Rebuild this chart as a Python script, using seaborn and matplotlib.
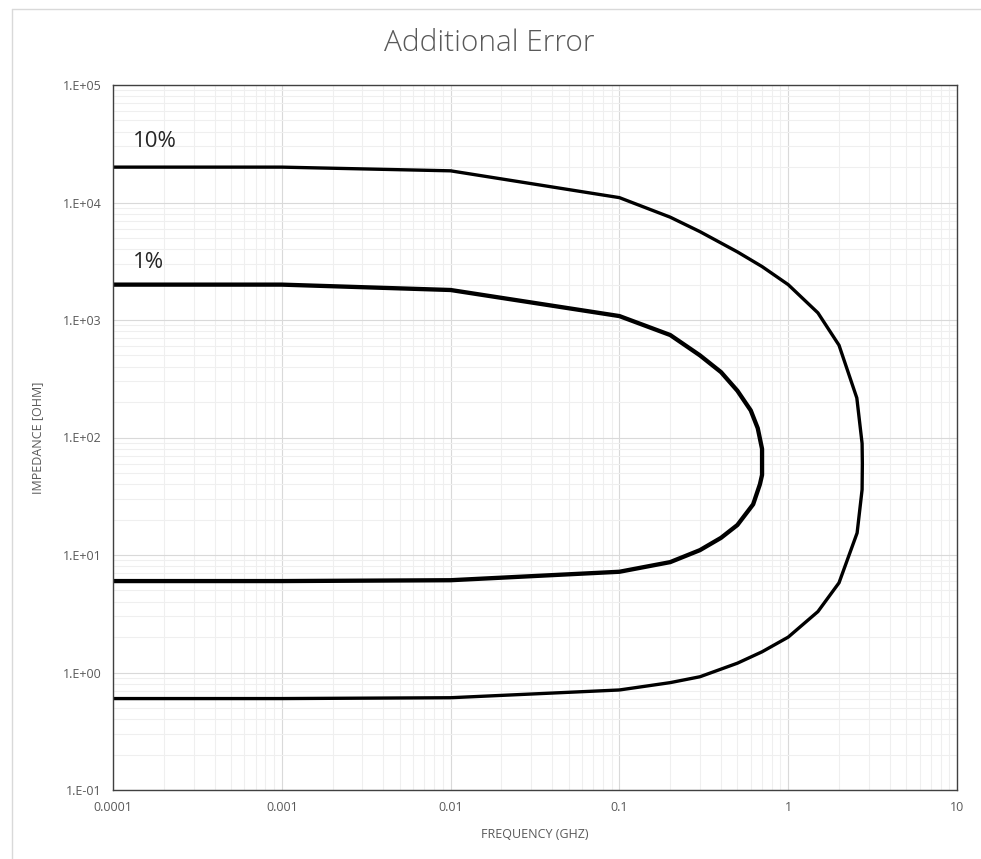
import matplotlib
matplotlib.use('Agg')
import matplotlib.pyplot as plt
import matplotlib.ticker as mticker
from matplotlib.lines import Line2D
import numpy as np
import pandas as pd
import seaborn as sns

# 1% curve: upper branch out to the tip, then lower branch back
freq_1 = [0.0001, 0.001, 0.01, 0.1, 0.2, 0.3, 0.4, 0.5, 0.6, 0.66, 0.7, 0.7,
          0.68, 0.62, 0.5, 0.4, 0.3, 0.2, 0.1, 0.01, 0.001, 0.0001]
imp_1 = [2000, 2000, 1800, 1080, 745, 500, 360, 250, 170, 120, 80, 48,
         40, 27, 18, 14, 11, 8.7, 7.2, 6.1, 6.0, 6.0]

# 10% curve
freq_10 = [0.0001, 0.001, 0.01, 0.1, 0.2, 0.3, 0.5, 0.7, 1.0, 1.5, 2.0, 2.55, 2.74, 2.75,
           2.74, 2.56, 2.0, 1.5, 1.0, 0.7, 0.5, 0.3, 0.2, 0.1, 0.01, 0.001, 0.0001]
imp_10 = [20000, 20000, 18600, 11000, 7500, 5650, 3800, 2850, 2000, 1150, 610, 217, 89, 60,
          36, 15.4, 5.8, 3.3, 2.0, 1.5, 1.2, 0.92, 0.82, 0.71, 0.61, 0.6, 0.6]

curve_labels = ['1%', '10%']
label_x = [0.000132, 0.000132]
label_y = [3100, 33000]

xtick_vals = [1e-4, 1e-3, 1e-2, 1e-1, 1, 10]
xtick_labels = ['0.0001', '0.001', '0.01', '0.1', '1', '10']
ytick_vals = [1e-1, 1e0, 1e1, 1e2, 1e3, 1e4, 1e5]
ytick_labels = ['1.E-01', '1.E+00', '1.E+01', '1.E+02', '1.E+03', '1.E+04', '1.E+05']

df = pd.concat([
    pd.DataFrame({'freq': freq_1, 'imp': imp_1, 'curve': '1%'}),
    pd.DataFrame({'freq': freq_10, 'imp': imp_10, 'curve': '10%'}),
])

sns.set_style('white')
plt.rcParams['font.family'] = ['Open Sans', 'DejaVu Sans']

W, H = 981, 859
fig = plt.figure(figsize=(W / 100, H / 100), dpi=100, facecolor='white')
ax = fig.add_axes([113 / W, 1 - 790 / H, (957 - 113) / W, (790 - 85) / H])

for name, lw in [('10%', 2.4), ('1%', 3.1)]:
    sub = df[df['curve'] == name]
    sns.lineplot(data=sub, x='freq', y='imp', sort=False, estimator=None,
                 color='black', linewidth=lw, ax=ax, legend=False)

ax.set_xscale('log')
ax.set_yscale('log')
ax.set_xlim(1e-4, 10)
ax.set_ylim(1e-1, 1e5)

ax.xaxis.set_minor_locator(mticker.LogLocator(base=10, subs=np.arange(2, 10), numticks=20))
ax.yaxis.set_minor_locator(mticker.LogLocator(base=10, subs=np.arange(2, 10), numticks=20))
ax.set_xticks(xtick_vals)
ax.set_xticklabels(xtick_labels)
ax.set_yticks(ytick_vals)
ax.set_yticklabels(ytick_labels)
ax.xaxis.set_minor_formatter(mticker.NullFormatter())
ax.yaxis.set_minor_formatter(mticker.NullFormatter())

ax.grid(True, which='major', color='#d9d9d9', linewidth=0.8)
ax.grid(True, which='minor', color='#efefef', linewidth=0.8)
ax.set_axisbelow(True)
ax.tick_params(which='both', length=0, labelsize=9, labelcolor='#595959')
ax.tick_params(axis='x', pad=8)
ax.tick_params(axis='y', pad=8)
for s in ax.spines.values():
    s.set_color('#404040')
    s.set_linewidth(1.0)

ax.set_xlabel('FREQUENCY (GHZ)', fontsize=9, color='#595959', labelpad=10)
ax.set_ylabel('IMPEDANCE [OHM]', fontsize=9, color='#595959', labelpad=14)

for t, x, y in zip(curve_labels, label_x, label_y):
    ax.text(x, y, t, fontsize=16, color='#262626', va='center', ha='left')

fig.text(0.5 - 1 / W, 1 - 43 / H, 'Additional Error', ha='center', va='center',
         fontsize=21.5, color='#595959', fontweight='light')

# outer chart-area border (top and left edges visible)
fig.add_artist(Line2D([12 / W, 12 / W], [0, 1 - 9 / H], color='#d9d9d9', linewidth=1,
                      transform=fig.transFigure))
fig.add_artist(Line2D([12 / W, 1], [1 - 9 / H, 1 - 9 / H], color='#d9d9d9', linewidth=1,
                      transform=fig.transFigure))

fig.savefig('out.png', dpi=100, facecolor='white')
